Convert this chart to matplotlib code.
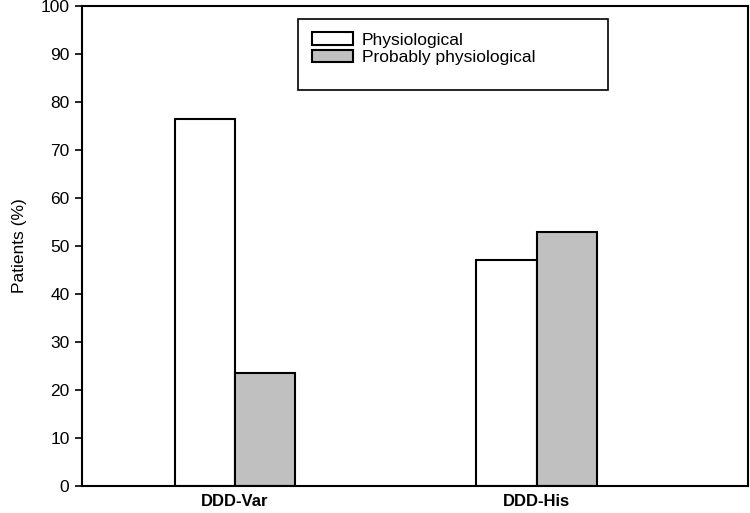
import numpy as np
import matplotlib
matplotlib.use("Agg")
import matplotlib.pyplot as plt
from matplotlib.patches import Rectangle

# data
categories = ['DDD-Var', 'DDD-His']
physiological = [76.5, 47.0]
probably = [23.5, 53.0]
series_names = ['Physiological', 'Probably physiological']

sans = ['Liberation Sans Narrow', 'Liberation Sans', 'DejaVu Sans']

fig = plt.figure(figsize=(7.5, 5.13), dpi=100)
ax = fig.add_axes([82 / 750, 1 - 486 / 513, 666 / 750, 480 / 513])

x = np.arange(len(categories))
w = 0.2
b1 = ax.bar(x - w / 2, physiological, w, color='white', edgecolor='black',
            linewidth=1.5, label=series_names[0])
b2 = ax.bar(x + w / 2, probably, w, color='#c0c0c0', edgecolor='black',
            linewidth=1.5, label=series_names[1])

ax.set_xlim(-0.507, 1.70)
ax.set_ylim(0, 100)
ax.set_yticks(np.arange(0, 101, 10))
ax.set_xticks(x)
ax.set_xticklabels(categories, family=sans, fontweight='bold', fontsize=12)
ax.tick_params(axis='x', length=0, pad=6)
ax.tick_params(axis='y', direction='out', length=5, width=1.2, labelsize=12.5, pad=4)
for lab in ax.get_yticklabels():
    lab.set_family(sans)
ax.set_ylabel('Patients (%)', family=sans, fontsize=12.5, labelpad=10)

for s in ax.spines.values():
    s.set_linewidth(1.5)

# legend box (larger than its content, as in the original)
ax.add_patch(Rectangle((0.324, 0.825), 0.466, 0.148, transform=ax.transAxes,
                       fill=False, edgecolor='black', linewidth=1.2, zorder=5))
ax.legend(handles=[b1, b2], loc='upper left', bbox_to_anchor=(0.345, 0.945),
          frameon=False, borderpad=0, borderaxespad=0, handlelength=2.4,
          handleheight=0.75, handletextpad=0.5, labelspacing=0.1,
          prop={'family': sans, 'size': 12.5})

fig.savefig('out.png', dpi=100)
